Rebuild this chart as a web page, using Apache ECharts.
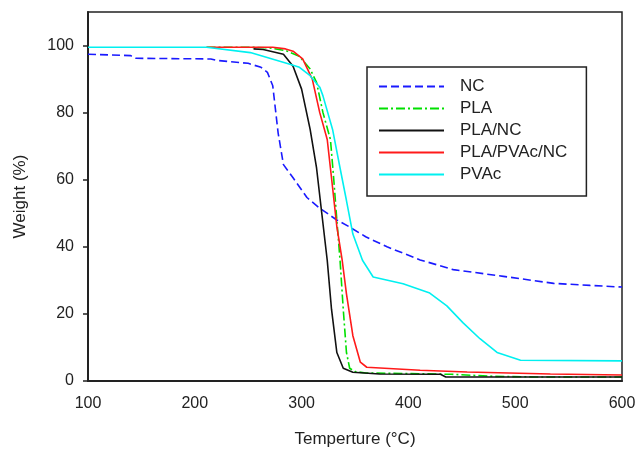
<!DOCTYPE html>
<html>
<head>
<meta charset="utf-8">
<script src="https://cdn.jsdelivr.net/npm/echarts@6/dist/echarts.min.js"></script>
<style>html,body{margin:0;padding:0;background:#fff}#c{width:639px;height:453px}</style>
</head>
<body>
<div id="c"></div>
<script>
const xTicks = [100, 200, 300, 400, 500, 600];
const yTicks = [0, 20, 40, 60, 80, 100];

const ncT = [100,140,145,215,220,250,262,268,273,278,283,292,305,317,333,345,360,380,411,442,489,536,570,600];
const ncW = [97.4,97,96.2,96,95.6,94.7,93.5,92,88,74,64.5,60.6,54.7,51.5,48,45.9,43,40,36.1,33.2,31.2,29.1,28.5,28];

const plaT = [211,250,270,285,298,308,314,320,327,330,333,336,339,342,345,350,360,400,440,480,520,600];
const plaW = [99.5,99.5,99.3,98.5,96.8,93,89,80,72,60.6,48,36,21.4,8.5,3.8,2.8,2.4,2.2,2.0,1.4,1.2,1.2];

const plaNcT = [255,264,283,292,300,308,314,319,324,328,333,339,348,373,430,435,600];
const plaNcW = [99,98.8,97.4,93.8,87,75,63.5,49.7,36,21.4,8.5,3.8,2.6,2.1,2.0,1.2,1.2];

const blendT = [211,273,285,292,301,310,317,324,328,333,338,342,348,355,361,411,455,533,600];
const blendW = [99.5,99.5,99,98.3,96,90,80,72,60.6,46,36,26,13.5,5.6,4.1,3.2,2.7,2.1,1.8];

const pvacT = [100,211,252,289,298,308,317,320,329,336,342,348,357,367,395,420,436,451,467,483,505,600];
const pvacW = [99.5,99.5,97.9,94.4,93.5,91,87.6,85,75,63.5,53.8,43.8,36,31,29,26.2,22.4,17.4,12.6,8.5,6.2,6];

const names = ['NC', 'PLA', 'PLA/NC', 'PLA/PVAc/NC', 'PVAc'];

function pairs(t, w) { return t.map((v, i) => [v, w[i]]); }

const FONT = 'Liberation Sans, Arial, sans-serif';

const seriesDefs = [
  { name: names[0], data: pairs(ncT, ncW), color: '#1a1aff', type: [8, 4] },
  { name: names[1], data: pairs(plaT, plaW), color: '#00e000', type: [9, 3, 2, 3] },
  { name: names[2], data: pairs(plaNcT, plaNcW), color: '#111111', type: 'solid' },
  { name: names[3], data: pairs(blendT, blendW), color: '#ff1a1a', type: 'solid' },
  { name: names[4], data: pairs(pvacT, pvacW), color: '#00f0f0', type: 'solid' }
];

const chart = echarts.init(document.getElementById('c'), null, { renderer: 'canvas' });
chart.setOption({
  animation: false,
  backgroundColor: '#fff',
  textStyle: { fontFamily: FONT },
  grid: { left: 88, right: 17, top: 12, bottom: 67, show: true, borderColor: '#222', borderWidth: 1.5, backgroundColor: 'transparent' },
  legend: {
    orient: 'vertical',
    left: 367, top: 67,
    padding: [11, 19, 13, 11],
    borderColor: '#222', borderWidth: 1.5,
    itemWidth: 65, itemHeight: 14, itemGap: 5,
    itemStyle: { opacity: 0 },
    textStyle: { fontFamily: FONT, fontSize: 17, color: '#222', lineHeight: 17, padding: [0, 0, 0, 11] },
    data: names
  },
  xAxis: {
    type: 'value', min: 100, max: 600, interval: 100,
    name: 'Temperture (°C)', nameLocation: 'middle', nameGap: 50,
    nameTextStyle: { fontFamily: FONT, fontSize: 17, color: '#222' },
    axisLine: { show: true, onZero: false, lineStyle: { color: '#222', width: 2 } },
    axisTick: { show: false },
    axisLabel: { fontFamily: FONT, fontSize: 16, color: '#222', margin: 15, customValues: xTicks },
    splitLine: { show: false }
  },
  yAxis: {
    type: 'value', min: 0, max: 110,
    name: 'Weight (%)', nameLocation: 'middle', nameGap: 59,
    nameTextStyle: { fontFamily: FONT, fontSize: 17, color: '#222' },
    axisLine: { show: true, onZero: false, lineStyle: { color: '#222', width: 2 } },
    axisTick: { show: true, length: 5, lineStyle: { color: '#222', width: 1.5 }, customValues: yTicks },
    axisLabel: { fontFamily: FONT, fontSize: 16, color: '#222', margin: 14, customValues: yTicks },
    splitLine: { show: false }
  },
  series: seriesDefs.map(s => ({
    type: 'line', name: s.name, data: s.data,
    symbol: 'none', showSymbol: false, smooth: false,
    color: s.color,
    lineStyle: { color: s.color, width: 1.6, type: s.type },
    emphasis: { disabled: true }
  }))
});
</script>
</body>
</html>
